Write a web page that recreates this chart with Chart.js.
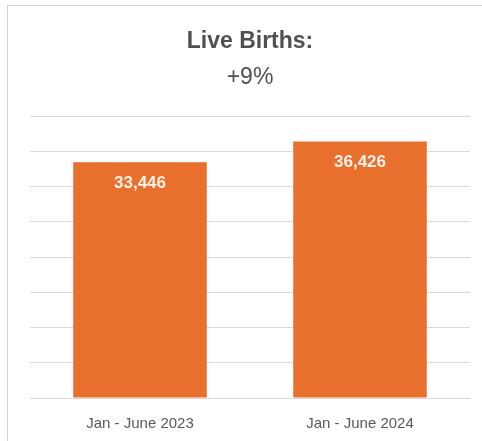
<!DOCTYPE html>
<html>
<head>
<meta charset="utf-8">
<script src="https://cdn.jsdelivr.net/npm/chart.js@4.4.0/dist/chart.umd.min.js"></script>
<style>
  html, body { margin: 0; padding: 0; background: #fff; }
  #card {
    position: absolute; left: 7px; top: 5px; width: 475px; height: 436px;
    border-left: 1px solid #d2d2d2; border-top: 1px solid #d2d2d2;
  }
  #wrap { position: absolute; left: 0; top: 0; width: 482px; height: 441px; }
</style>
</head>
<body>
<div id="card"></div>
<div id="wrap"><canvas id="grafico"></canvas></div>
<script>
// periodos e nascimentos vivos
const periodos = ["Jan - June 2023", "Jan - June 2024"];
const nascimentos = [33446, 36426];
const titulo = "Live Births:";
const variacao = "+9%";

const corBarra = "#e96f2d";
const fonte = "'Liberation Sans', Arial, sans-serif";

// escreve o valor dentro de cada barra, perto do topo
const rotulosBarras = {
  id: "rotulosBarras",
  afterDatasetsDraw(chart) {
    const { ctx } = chart;
    const meta = chart.getDatasetMeta(0);
    ctx.save();
    ctx.fillStyle = "#fdf3e8";
    ctx.font = "bold 17px " + fonte;
    ctx.textAlign = "center";
    ctx.textBaseline = "middle";
    meta.data.forEach((bar, i) => {
      ctx.fillText(nascimentos[i].toLocaleString("en-US"), bar.x, bar.y + 21);
    });
    ctx.restore();
  },
};

new Chart(document.getElementById("grafico"), {
  type: "bar",
  data: {
    labels: periodos,
    datasets: [
      {
        data: nascimentos,
        backgroundColor: corBarra,
        borderWidth: 0,
      },
    ],
  },
  options: {
    responsive: true,
    maintainAspectRatio: false,
    animation: false,
    categoryPercentage: 1,
    barPercentage: 0.607,
    layout: { padding: { left: 30, right: 12, bottom: -9 } },
    scales: {
      x: {
        grid: { display: false, drawTicks: false },
        border: { display: false },
        ticks: { color: "#595959", font: { family: fonte, size: 15 }, padding: 17 },
      },
      y: {
        min: 0,
        max: 40000,
        ticks: { stepSize: 5000, display: false },
        grid: { color: "#d9d9d9", drawTicks: false },
        border: { display: false },
      },
    },
    plugins: {
      legend: { display: false },
      tooltip: { enabled: false },
      title: {
        display: true,
        text: titulo,
        color: "#505050",
        font: { family: fonte, size: 23, weight: "bold", lineHeight: 1.2 },
        padding: { top: 28, bottom: 0 },
      },
      subtitle: {
        display: true,
        text: variacao,
        color: "#505050",
        font: { family: fonte, size: 23, weight: "normal", lineHeight: 1.2 },
        padding: { top: 8, bottom: 25 },
      },
    },
  },
  plugins: [rotulosBarras],
});
</script>
</body>
</html>
